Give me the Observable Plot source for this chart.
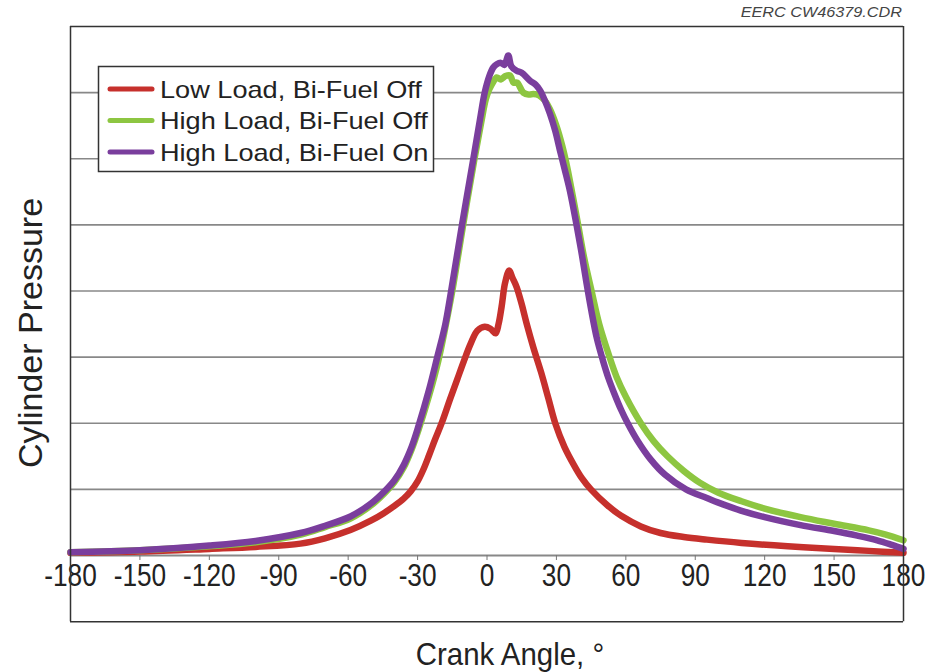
<!DOCTYPE html>
<html><head><meta charset="utf-8">
<script src="https://cdn.jsdelivr.net/npm/d3@7"></script>
<script src="https://cdn.jsdelivr.net/npm/@observablehq/plot@0.6"></script>
<style>body{margin:0;background:#fff}</style>
</head><body><div id="chart"></div>
<script>
const seriesNames = ["Low Load, Bi-Fuel Off", "High Load, Bi-Fuel Off", "High Load, Bi-Fuel On"];
const seriesColors = ["#c6302c", "#8dc641", "#7a3e9d"];
const xTicks = [-180, -150, -120, -90, -60, -30, 0, 30, 60, 90, 120, 150, 180];
const yGrid = [1, 2, 3, 4, 5, 6, 7];

const lowAngle = [-180,-150,-120,-100,-80.6,-70,-59,-50,-44.6,-40,-36,-33,-30,-27.5,-25,-22.5,-19.4,-16,-12.9,-10,-7.1,-4.2,-1,1.5,3.7,5,6.3,7.8,9.6,11,12.8,15,17.1,20,23.3,26.5,29.5,33.5,37.7,41,44.9,52,58,66.5,75,85,95,110,130,150,165,180];
const lowP     = [0.04,0.06,0.1,0.13,0.18,0.26,0.385,0.53,0.64,0.75,0.86,0.97,1.12,1.3,1.52,1.75,2.02,2.36,2.66,2.94,3.2,3.4,3.46,3.43,3.36,3.5,3.76,4.12,4.31,4.2,4.06,3.8,3.51,3.15,2.78,2.38,2.0,1.64,1.36,1.17,1.0,0.76,0.6,0.44,0.34,0.28,0.24,0.19,0.14,0.1,0.07,0.04];

const hiOffAngle = [-180,-150,-120,-100,-80,-70,-59,-50,-44.6,-40,-36,-32.5,-29.5,-25,-21,-18,-15,-10.3,-5.4,-2.5,-0.5,1,2.5,4.2,6,8,9.9,11.5,13,15.7,18,20,22.5,25,27.2,30,32.5,34.5,37,39.4,42,45.2,48.5,52.5,56,60,66.5,72,78,85,92,100,110,120,135.5,150,165,172,180];
const hiOffP     = [0.05,0.08,0.14,0.2,0.32,0.43,0.56,0.76,0.93,1.11,1.33,1.61,1.91,2.42,2.95,3.45,4.0,5.0,6.0,6.55,6.9,7.05,7.15,7.23,7.2,7.25,7.26,7.15,7.15,7.0,6.97,6.98,6.96,6.88,6.75,6.5,6.2,5.9,5.45,5.0,4.5,4.0,3.5,3.05,2.7,2.4,2.0,1.73,1.5,1.28,1.1,0.95,0.82,0.71,0.58,0.48,0.38,0.32,0.23];

const hiOnAngle = [-180,-150,-120,-100,-80.6,-70,-59,-50,-44.6,-40,-36,-32.5,-29.5,-25.1,-21.5,-18,-15.5,-10.8,-5.9,-3,-1,1,2.7,4.2,6,7.5,9.2,10.5,12.8,15,18.6,21,23,25,27.2,29.5,31.5,33.5,35.8,38.7,41,43,45,47.5,50,52.5,55,58,60.8,65,70.8,77,86,95,100,109.7,120,135.5,150,160,168.6,175,180];
const hiOnP     = [0.05,0.08,0.15,0.22,0.34,0.45,0.59,0.79,0.96,1.14,1.37,1.65,1.97,2.5,3.0,3.5,4.0,5.0,6.0,6.6,7.0,7.25,7.38,7.43,7.45,7.42,7.56,7.4,7.33,7.3,7.18,7.12,7.03,6.88,6.68,6.42,6.13,5.85,5.52,5.0,4.55,4.12,3.72,3.28,2.96,2.68,2.45,2.2,2.0,1.74,1.45,1.22,1.0,0.87,0.8,0.68,0.58,0.46,0.37,0.3,0.23,0.16,0.1];

const toRows = (a, p) => a.map((angle, i) => ({angle, p: p[i]}));
const series = [toRows(lowAngle, lowP), toRows(hiOffAngle, hiOffP), toRows(hiOnAngle, hiOnP)];

const sans = "'Liberation Sans', Arial, sans-serif";

const svg = Plot.plot({
  width: 938, height: 672,
  marginLeft: 70, marginRight: 35, marginTop: 26, marginBottom: 117,
  style: {fontFamily: sans, fontSize: "32px", background: "#fff", color: "#222"},
  x: {domain: [-180, 180], axis: null},
  y: {domain: [0, 8], axis: null},
  marks: [
    Plot.ruleY(yGrid, {stroke: "#888", strokeWidth: 1.6}),
    Plot.ruleY([0], {stroke: "#888", strokeWidth: 2}),
    Plot.axisX(xTicks, {tickSize: 5, tickPadding: 3, stroke: "#777", fill: "#222", fontSize: 32, fontFamily: sans, label: null, tickFormat: d => String(d)}),
    Plot.line(series[0], {x: "angle", y: "p", stroke: seriesColors[0], strokeWidth: 6.5, curve: "catmull-rom"}),
    Plot.line(series[1], {x: "angle", y: "p", stroke: seriesColors[1], strokeWidth: 6.5, curve: "catmull-rom"}),
    Plot.line(series[2], {x: "angle", y: "p", stroke: seriesColors[2], strokeWidth: 6.5, curve: "catmull-rom"}),
    Plot.ruleX([-180, 180], {y1: -1, y2: 8, stroke: "#333", strokeWidth: 1.5}),
    Plot.ruleY([8, -1], {stroke: "#333", strokeWidth: 1.5})
  ]
});
document.getElementById("chart").append(svg);

const s = d3.select(svg);
// condense the tick labels horizontally (narrow face as in the reference)
s.selectAll('g[aria-label="x-axis tick label"] text').each(function() {
  const b = this.getBBox();
  const cx = b.x + b.width / 2;
  const t = this.getAttribute("transform") || "";
  this.setAttribute("transform", `${t} translate(${cx},0) scale(0.82,1) translate(${-cx},0)`);
});
// source tag
s.append("text").attr("transform", "translate(902,17) scale(1.12,1)").attr("text-anchor", "end")
  .attr("font-family", sans).attr("font-style", "italic").attr("font-size", 14.5).attr("fill", "#444")
  .text("EERC CW46379.CDR");
// axis titles
s.append("text").attr("transform", "translate(42,333) rotate(-90)").attr("text-anchor", "middle")
  .attr("font-family", sans).attr("font-size", 34).attr("fill", "#222").text("Cylinder Pressure");
s.append("text").attr("transform", "translate(510,665) scale(0.92,1)").attr("text-anchor", "middle")
  .attr("font-family", sans).attr("font-size", 32).attr("fill", "#222").text("Crank Angle, °");
// legend
const lg = s.append("g");
lg.append("rect").attr("x", 98.5).attr("y", 66.5).attr("width", 335).attr("height", 105)
  .attr("fill", "#fff").attr("stroke", "#333").attr("stroke-width", 1.5);
seriesNames.forEach((name, i) => {
  const yy = 89 + i * 31.5;
  lg.append("line").attr("x1", 110).attr("x2", 152).attr("y1", yy).attr("y2", yy)
    .attr("stroke", seriesColors[i]).attr("stroke-width", 5).attr("stroke-linecap", "round");
  lg.append("text").attr("transform", `translate(160,${yy + 8.5}) scale(1.18,1)`).attr("text-anchor", "start")
    .attr("font-family", sans).attr("font-size", 23).attr("fill", "#222").text(name);
});
</script>
</body></html>
